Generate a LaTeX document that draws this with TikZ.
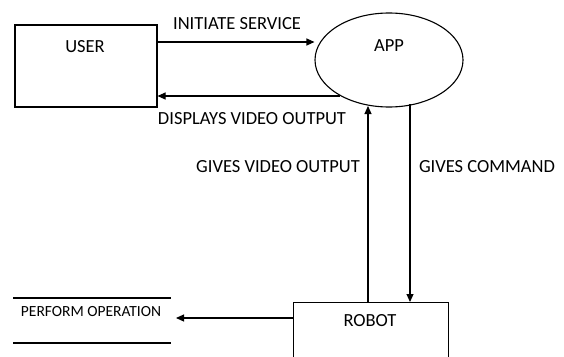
\documentclass[tikz,border=0pt]{standalone}
\usepackage{fontspec}
\setmainfont{Carlito}
\usetikzlibrary{arrows.meta,shapes.geometric}
\begin{document}
\begin{tikzpicture}[x=1pt,y=-1pt,
  line width=1.1pt,
  lbl/.style={font=\fontsize{18.5}{20}\selectfont,inner sep=0pt},
  arr/.style={-{Triangle[length=8pt,width=7pt]}}]
\clip (0,0) rectangle (564,356);
\useasboundingbox (0,0) rectangle (564,356);
\node[draw,minimum width=142pt,minimum height=82pt,inner sep=0pt] (user) at (86,66) {};
\node[lbl] (usert) at (85,47) {USER};
\node[draw,ellipse,minimum width=148pt,minimum height=94pt,inner sep=0pt] (app) at (389,60) {};
\node[lbl] (appt) at (389,46) {APP};
\node[draw,minimum width=155pt,minimum height=90pt,inner sep=0pt,anchor=north west] (robot) at (293,302) {};
\node[lbl] (robott) at (370,321) {ROBOT};
\coordinate (p1) at (13,298);
\coordinate (p2) at (171,298);
\coordinate (p3) at (13,343);
\coordinate (p4) at (171,343);
\draw (p1) -- (p2);
\draw (p3) -- (p4);
\node[font=\fontsize{15.5}{17}\selectfont,inner sep=0pt] (perf) at (91,312) {PERFORM OPERATION};
\coordinate (perfend) at (176,318);
% arrows
\draw[arr] (user.east |- 0,42) -- (app.west |- 0,42) coordinate (ae);
\node[lbl] (l1) at (237,24) {INITIATE SERVICE};
\draw[arr] (340,96) coordinate (ds) -- (user.east |- ds);
\node[lbl] (l2) at (252,119) {DISPLAYS VIDEO OUTPUT};
\draw[arr] (robot.north -| 368,0) -- (368,106);
\node[lbl] (l3) at (278,167) {GIVES VIDEO OUTPUT};
\draw[arr] (410,104) -- (robot.north -| 410,0);
\node[lbl] (l4) at (487,167) {GIVES COMMAND};
\draw[arr] (robot.west |- perfend) -- (perfend);
\end{tikzpicture}
\end{document}
